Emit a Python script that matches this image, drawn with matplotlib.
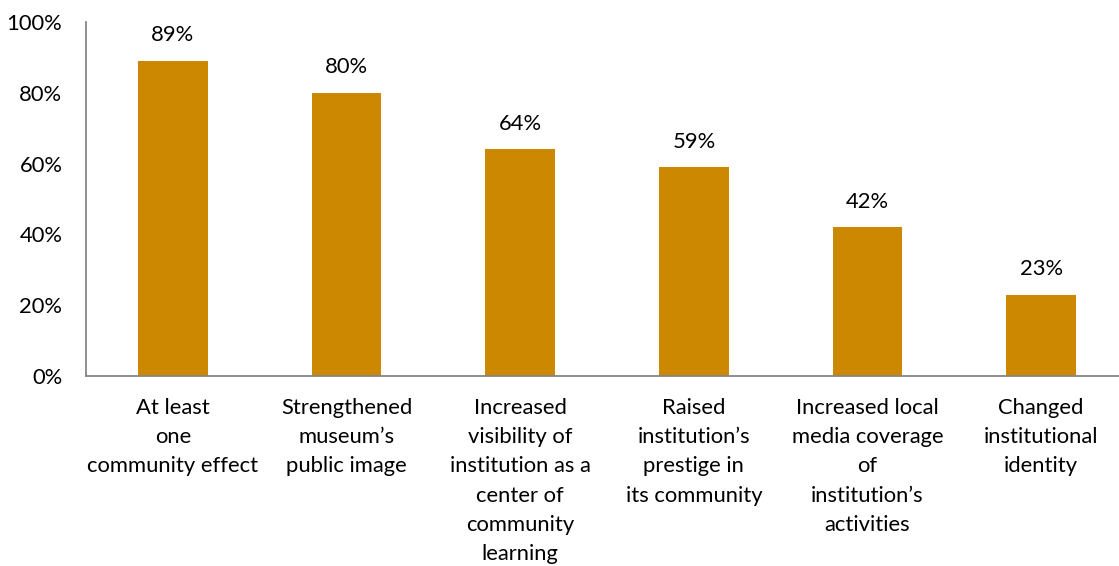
import matplotlib
matplotlib.use("Agg")
import matplotlib.pyplot as plt

categories = [
    "At least\none\ncommunity effect",
    "Strengthened\nmuseum\u2019s\npublic image",
    "Increased\nvisibility of\ninstitution as a\ncenter of\ncommunity\nlearning",
    "Raised\ninstitution\u2019s\nprestige in\nits community",
    "Increased local\nmedia coverage\nof\ninstitution\u2019s\nactivities",
    "Changed\ninstitutional\nidentity",
]
values = [89, 80, 64, 59, 42, 23]
yticks = [0, 20, 40, 60, 80, 100]
ytick_labels = ["0%", "20%", "40%", "60%", "80%", "100%"]

bar_color = "#CC8800"
font = "Lato"
fs = 15.8

fig = plt.figure(figsize=(11.19, 5.66), dpi=100)
ax = fig.add_axes([86 / 1119, 1 - 376 / 566, (1128 - 86) / 1119, (376 - 22) / 566])

x = range(len(categories))
ax.bar(x, values, width=0.40, color=bar_color, zorder=2)
for xi, v in zip(x, values):
    ax.text(xi, v + 4.4, f"{v}%", ha="center", va="bottom",
            fontsize=fs, family=font, color="#000000")

ax.set_xlim(-0.5, len(categories) - 0.5)
ax.set_ylim(0, 100)
ax.set_yticks(yticks)
ax.set_yticklabels(ytick_labels, fontsize=fs, family=font)
ax.set_xticks(list(x))
ax.set_xticklabels(categories, fontsize=fs, family=font, linespacing=1.57,
                   va="top")
ax.tick_params(axis="both", length=0)
ax.tick_params(axis="y", pad=17)
ax.tick_params(axis="x", pad=16)

for side in ["top", "right"]:
    ax.spines[side].set_visible(False)
for side in ["left", "bottom"]:
    ax.spines[side].set_color("#868686")
    ax.spines[side].set_linewidth(1.3)

fig.savefig("out.png", dpi=100)
